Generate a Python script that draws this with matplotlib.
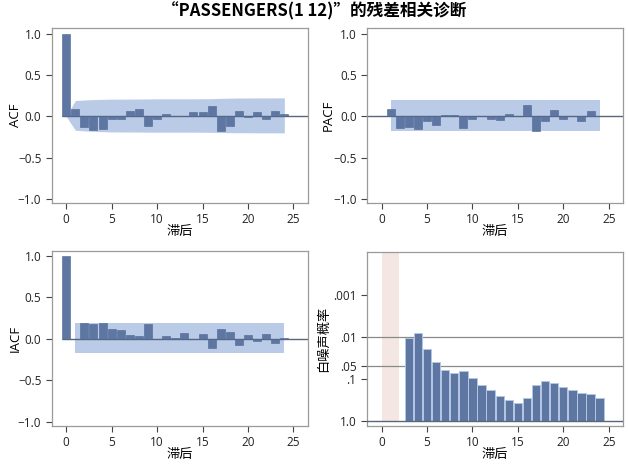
"""
ARIMA residual correlation diagnostics panel
"""

import numpy as np
import matplotlib
matplotlib.use("Agg")
import matplotlib.pyplot as plt

plt.rcParams['font.family'] = ['Open Sans', 'Noto Sans CJK SC', 'DejaVu Sans']

# data
lags = np.arange(0, 25)
acf = [1.0, 0.085, -0.13, -0.16, -0.155, -0.025, -0.025, 0.07, 0.085, -0.11,
       -0.035, 0.025, 0.01, 0.003, 0.05, 0.05, 0.13, -0.17, -0.12, 0.07,
       -0.004, 0.06, -0.03, 0.07, 0.025]
acf_upper = [0.0, 0.194, 0.2, 0.205, 0.208, 0.21, 0.21, 0.211, 0.212, 0.213,
             0.214, 0.214, 0.214, 0.214, 0.214, 0.215, 0.216, 0.22, 0.222, 0.224,
             0.224, 0.225, 0.225, 0.225, 0.226]
acf_lower = [0.0, -0.166, -0.175, -0.18, -0.184, -0.187, -0.188, -0.188, -0.189, -0.19,
             -0.19, -0.19, -0.19, -0.19, -0.19, -0.191, -0.192, -0.195, -0.196, -0.197,
             -0.197, -0.198, -0.198, -0.198, -0.198]

pacf_lags = np.arange(1, 24)
pacf = [0.085, -0.14, -0.13, -0.155, -0.05, -0.1, 0.02, 0.02, -0.14, -0.025,
        0.003, -0.03, -0.045, 0.03, 0.005, 0.14, -0.17, -0.05, 0.08, -0.035,
        0.005, -0.055, 0.07]
pacf_band = (-0.175, 0.194)

iacf = [1.0, -0.005, 0.19, 0.175, 0.185, 0.115, 0.105, 0.045, 0.03, 0.175,
        0.003, 0.03, 0.005, 0.07, -0.005, 0.055, -0.11, 0.115, 0.08, -0.075,
        0.045, -0.025, 0.055, -0.05, 0.005]
iacf_band = (-0.177, 0.194)

wn_lags = np.arange(3, 25)
wn_prob = [0.0102, 0.0081, 0.0195, 0.040, 0.060, 0.074, 0.066, 0.093, 0.138, 0.19,
           0.26, 0.32, 0.37, 0.28, 0.138, 0.11, 0.123, 0.158, 0.18, 0.22, 0.235, 0.295]
wn_ticks = [0.001, 0.01, 0.05, 0.1, 1.0]
wn_ticklabels = ['.001', '.01', '.05', '.1', '1.0']

bar_c = '#5e76a2'
band_c = '#b9cbe6'
line_c = '#5a6679'
spine_c = '#9a9a9a'

fig = plt.figure(figsize=(6.28, 4.72), dpi=100)
L1, L2, W = 0.0823, 0.5844, 0.4081
B1, B2, H = 0.5706, 0.0975, 0.3701
ax_acf = fig.add_axes([L1, B1, W, H])
ax_pacf = fig.add_axes([L2, B1, W, H])
ax_iacf = fig.add_axes([L1, B2, W, H])
ax_wn = fig.add_axes([L2, B2, W, 0.3692])


def style(ax, ylabel, ylab_x):
    for s in ax.spines.values():
        s.set_color(spine_c)
        s.set_linewidth(0.9)
    ax.tick_params(colors='#444444', labelcolor='#222222', labelsize=8.5, length=4, width=0.8)
    ax.set_xlim(-1.6, 26.6)
    ax.set_xticks([0, 5, 10, 15, 20, 25])
    ax.set_xlabel('滞后', fontsize=9.5)
    ax.xaxis.set_label_coords(0.5, -0.128)
    ax.set_ylabel(ylabel, fontsize=9.5)
    ax.yaxis.set_label_coords(ylab_x, 0.5)


# ACF
ax_acf.fill_between(lags, acf_lower, acf_upper, color=band_c, lw=0, zorder=1)
ax_acf.hlines(0, -0.5, 26.6, color=line_c, lw=1, zorder=2)
ax_acf.bar(lags, acf, width=0.88, color=bar_c, edgecolor='#4e6591', lw=0.4, zorder=3)
ax_acf.set_ylim(-1.045, 1.073)
ax_acf.set_yticks([-1.0, -0.5, 0.0, 0.5, 1.0])
style(ax_acf, 'ACF', -0.115)

# PACF
ax_pacf.fill_between([1, 24], pacf_band[0], pacf_band[1], color=band_c, lw=0, zorder=1)
ax_pacf.axhline(0, color=line_c, lw=1, zorder=2)
ax_pacf.bar(pacf_lags, pacf, width=0.88, color=bar_c, edgecolor='#4e6591', lw=0.4, zorder=3)
ax_pacf.set_ylim(-1.045, 1.073)
ax_pacf.set_yticks([-1.0, -0.5, 0.0, 0.5, 1.0])
style(ax_pacf, 'PACF', -0.124)

# IACF
ax_iacf.fill_between([1, 24], iacf_band[0], iacf_band[1], color=band_c, lw=0, zorder=1)
ax_iacf.hlines(0, -0.5, 26.6, color=line_c, lw=1, zorder=2)
ax_iacf.bar(lags, iacf, width=0.88, color=bar_c, edgecolor='#4e6591', lw=0.4, zorder=3)
ax_iacf.set_ylim(-1.052, 1.056)
ax_iacf.set_yticks([-1.0, -0.5, 0.0, 0.5, 1.0])
style(ax_iacf, 'IACF', -0.115)

# white noise probabilities (-log10 scale)
ax_wn.axvspan(0, 1.93, ymin=0.031, ymax=1, color='#f4e6e3', lw=0, zorder=1)
ax_wn.axhline(-np.log10(0.01), color='#8a8a8a', lw=0.9, zorder=2)
ax_wn.axhline(-np.log10(0.05), color='#8a8a8a', lw=0.9, zorder=2)
ax_wn.bar(wn_lags, -np.log10(wn_prob), width=0.92, color=bar_c,
          edgecolor='#b4c6e4', lw=0.7, zorder=3)
ax_wn.axhline(0, color=line_c, lw=1, zorder=4)
ax_wn.set_ylim(-0.13, 4.05)
ax_wn.set_yticks(-np.log10(wn_ticks))
ax_wn.set_yticklabels(wn_ticklabels)
style(ax_wn, '白噪声概率', -0.143)

fig.suptitle('“PASSENGERS(1 12)”的残差相关诊断', fontsize=12, fontweight='bold', y=0.995,
             family=['Noto Sans CJK SC', 'DejaVu Sans'])

fig.savefig('out.png', dpi=100)
